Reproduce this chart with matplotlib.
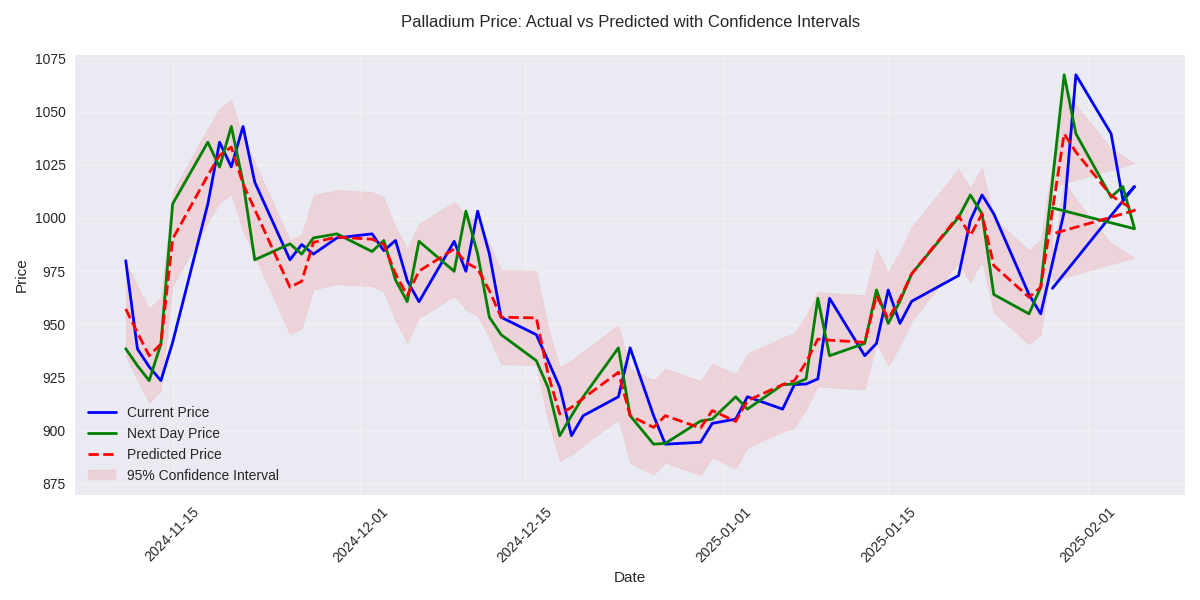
import matplotlib.pyplot as plt
import pandas as pd

# rows as they come out of the model, Jan 29 ended up last
dates = [
    "2024-11-11", "2024-11-12", "2024-11-13", "2024-11-14", "2024-11-15",
    "2024-11-18", "2024-11-19", "2024-11-20", "2024-11-21", "2024-11-22",
    "2024-11-25", "2024-11-26", "2024-11-27", "2024-11-29",
    "2024-12-02", "2024-12-03", "2024-12-04", "2024-12-05", "2024-12-06",
    "2024-12-09", "2024-12-10", "2024-12-11", "2024-12-12", "2024-12-13",
    "2024-12-16", "2024-12-17", "2024-12-18", "2024-12-19", "2024-12-20",
    "2024-12-23", "2024-12-24", "2024-12-26", "2024-12-27",
    "2024-12-30", "2024-12-31", "2025-01-02", "2025-01-03",
    "2025-01-06", "2025-01-07", "2025-01-08", "2025-01-09", "2025-01-10",
    "2025-01-13", "2025-01-14", "2025-01-15", "2025-01-16", "2025-01-17",
    "2025-01-21", "2025-01-22", "2025-01-23", "2025-01-24",
    "2025-01-27", "2025-01-28", "2025-01-30", "2025-01-31",
    "2025-02-03", "2025-02-04", "2025-02-05", "2025-01-29",
]

current_price = [
    979.9, 938.4, 930.0, 923.5, 941.5,
    1006.6, 1035.6, 1024.0, 1043.0, 1016.8,
    980.3, 987.5, 983.0, 990.6,
    992.5, 984.6, 989.4, 970.5, 960.6,
    989.0, 974.9, 1003.2, 983.1, 953.3,
    945.1, 932.9, 920.3, 897.6, 907.0,
    915.9, 938.9, 907.0, 893.6,
    894.5, 903.4, 905.4, 915.9,
    910.1, 921.6, 921.9, 924.3, 962.2,
    935.2, 941.0, 966.1, 950.4, 960.8,
    972.9, 998.8, 1010.8, 1001.9,
    964.0, 954.9, 1002.8, 1067.3,
    1039.6, 1008.7, 1014.8, 966.9,
]

next_day_price = [
    938.5, 930.5, 923.5, 940.7, 1006.6,
    1035.6, 1023.9, 1043.0, 1016.8, 980.3,
    987.8, 983.0, 990.6, 992.5,
    984.2, 989.4, 970.8, 960.6, 989.0,
    974.9, 1003.2, 983.1, 953.3, 945.1,
    932.9, 920.3, 897.6, 907.0, 915.9,
    938.9, 907.0, 893.6, 894.0,
    904.5, 905.4, 915.9, 910.1,
    921.6, 921.9, 924.3, 962.2, 935.2,
    941.0, 966.1, 950.4, 960.8, 973.7,
    1000.3, 1010.8, 1001.9, 964.0,
    954.9, 967.4, 1067.3, 1039.6,
    1009.8, 1014.8, 994.9, 1004.7,
]

predicted_price = [
    957.2, 946.0, 935.2, 940.7, 990.1,
    1020.0, 1029.4, 1033.3, 1016.0, 1004.0,
    967.4, 970.2, 988.5, 991.0,
    990.0, 987.5, 973.7, 963.5, 975.0,
    985.4, 979.1, 976.0, 965.8, 953.3,
    953.0, 926.6, 907.8, 910.9, 915.2,
    927.4, 907.0, 901.5, 907.0,
    901.2, 909.4, 904.3, 914.1,
    921.6, 923.5, 932.1, 943.0, 942.5,
    941.5, 963.5, 952.5, 962.0, 973.7,
    1001.0, 991.7, 1001.9, 977.6,
    962.7, 967.4, 1039.6, 1031.0,
    1010.5, 1007.0, 1003.5, 992.5,
]

ci_lower = [
    935.0, 923.8, 913.0, 918.5, 967.9,
    997.8, 1007.2, 1011.1, 993.8, 981.8,
    945.2, 948.0, 966.3, 968.8,
    967.8, 965.3, 951.5, 941.3, 952.8,
    963.2, 956.9, 953.8, 943.6, 931.1,
    930.8, 904.4, 885.6, 888.7, 893.0,
    905.2, 884.8, 879.3, 884.8,
    879.0, 887.2, 882.1, 891.9,
    899.4, 901.3, 909.9, 920.8, 920.3,
    919.3, 941.3, 930.3, 939.8, 951.5,
    978.8, 969.5, 979.7, 955.4,
    940.5, 945.2, 1017.4, 1008.8,
    988.3, 984.8, 981.3, 970.3,
]

ci_upper = [
    979.4, 968.2, 957.4, 962.9, 1012.3,
    1042.2, 1051.6, 1055.5, 1038.2, 1026.2,
    989.6, 992.4, 1010.7, 1013.2,
    1012.2, 1009.7, 995.9, 985.7, 997.2,
    1007.6, 1001.3, 998.2, 988.0, 975.5,
    975.2, 948.8, 930.0, 933.1, 937.4,
    949.6, 929.2, 923.7, 929.2,
    923.4, 931.6, 926.5, 936.3,
    943.8, 945.7, 954.3, 965.2, 964.7,
    963.7, 985.7, 974.7, 984.2, 995.9,
    1023.2, 1013.9, 1024.1, 999.8,
    984.9, 989.6, 1061.8, 1053.2,
    1032.7, 1029.2, 1025.7, 1014.7,
]

x = pd.to_datetime(dates)

plt.style.use('seaborn-v0_8')
plt.rcParams['font.family'] = ['Liberation Sans', 'DejaVu Sans']

fig, ax = plt.subplots(figsize=(12, 6), dpi=100)

ax.plot(x, current_price, color='blue', linewidth=2, label='Current Price')
ax.plot(x, next_day_price, color='green', linewidth=2, label='Next Day Price')
ax.plot(x, predicted_price, color='red', linestyle='--', linewidth=2, label='Predicted Price')
ax.fill_between(x, ci_lower, ci_upper, color='red', alpha=0.1, label='95% Confidence Interval')

ax.set_title('Palladium Price: Actual vs Predicted with Confidence Intervals', pad=20)
ax.set_xlabel('Date')
ax.set_ylabel('Price')
ax.legend(loc='lower left')
ax.grid(True, alpha=0.3)
plt.xticks(rotation=45)

plt.tight_layout()
plt.savefig('out.png')
